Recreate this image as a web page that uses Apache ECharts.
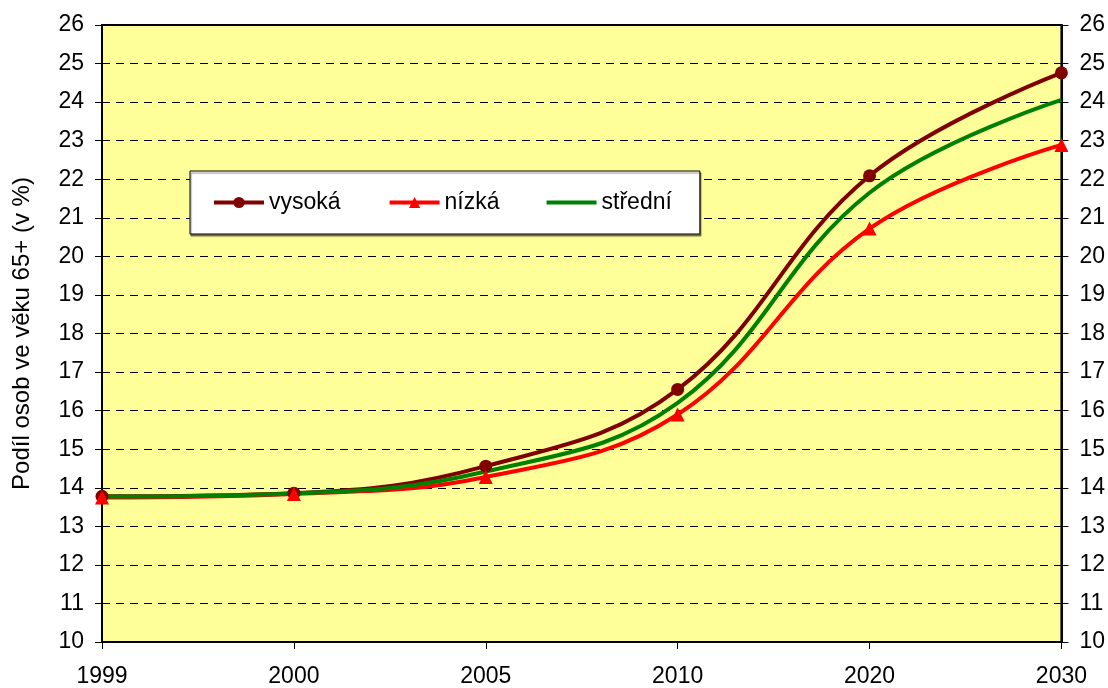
<!DOCTYPE html>
<html>
<head>
<meta charset="utf-8">
<script src="https://cdn.jsdelivr.net/npm/echarts@6/dist/echarts.min.js"></script>
<style>html,body{margin:0;padding:0;background:#fff}#c{width:1108px;height:688px}</style>
</head>
<body>
<div id="c"></div>
<script>
var years = ['1999', '2000', '2005', '2010', '2020', '2030'];
var vysoka = [13.78, 13.86, 14.56, 16.55, 22.09, 24.76];
var nizka = [13.75, 13.84, 14.28, 15.90, 20.72, 22.89];
var stredni = [13.77, 13.85, 14.42, 16.20, 21.65, 24.06];
var seriesNames = ['vysoká', 'nízká', 'střední'];
var yTitle = 'Podíl osob ve věku 65+ (v %)';

var font = 'Liberation Sans, Arial, sans-serif';
var chart = echarts.init(document.getElementById('c'));
var yAxisBase = {
  type: 'value', min: 10, max: 26, interval: 1,
  axisLine: { show: true, lineStyle: { color: '#000', width: 2 } },
  axisTick: { show: true, length: 7, inside: false, lineStyle: { color: '#000', width: 1 } },
  axisLabel: { color: '#000', fontSize: 23, fontFamily: font, margin: 18 },
  splitLine: { show: false }
};
chart.setOption({
  animation: false,
  backgroundColor: '#fff',
  grid: { left: 102, right: 45, top: 25, bottom: 45, show: true, backgroundColor: '#FFFF99', borderColor: '#000', borderWidth: 2 },
  legend: {
    left: 190, top: 171,
    orient: 'horizontal',
    padding: [20, 28, 20, 22],
    backgroundColor: '#fff', borderColor: '#000', borderWidth: 1,
    shadowColor: 'rgba(0,0,0,0.45)', shadowOffsetX: 1, shadowOffsetY: 2, shadowBlur: 1,
    itemWidth: 50, itemHeight: 14, itemGap: 47,
    lineStyle: { width: 4 },
    textStyle: { fontSize: 23, fontFamily: font, color: '#000' },
    data: [
      { name: seriesNames[0] },
      { name: seriesNames[1] },
      { name: seriesNames[2], icon: 'path://M0,0 L50,0 L50,4 L0,4 Z', itemStyle: { color: '#008000' } }
    ]
  },
  xAxis: {
    type: 'category', data: years, boundaryGap: false,
    axisLine: { show: true, lineStyle: { color: '#000', width: 2 } },
    axisTick: { show: true, length: 7, alignWithLabel: true, lineStyle: { color: '#000', width: 1 } },
    axisLabel: { color: '#000', fontSize: 23, fontFamily: font, margin: 23 },
    splitLine: { show: false }
  },
  yAxis: [
    Object.assign({}, yAxisBase, {
      position: 'left',
      name: yTitle, nameLocation: 'middle', nameGap: 68, nameRotate: 90,
      nameTextStyle: { fontSize: 24, fontFamily: font, color: '#000' },
      splitLine: { show: true, lineStyle: { color: '#000', width: 1, type: [8, 6] } }
    }),
    Object.assign({}, yAxisBase, { position: 'right' })
  ],
  series: [
    { name: seriesNames[0], type: 'line', data: vysoka, smooth: 0.4, symbol: 'circle', symbolSize: 13,
      lineStyle: { color: '#800000', width: 4 }, itemStyle: { color: '#800000' } },
    { name: seriesNames[1], type: 'line', data: nizka, smooth: 0.4, symbol: 'triangle', symbolSize: 14,
      lineStyle: { color: '#FF0000', width: 4 }, itemStyle: { color: '#FF0000' } },
    { name: seriesNames[2], type: 'line', data: stredni, smooth: 0.4, symbol: 'none', showSymbol: false,
      lineStyle: { color: '#008000', width: 4 }, itemStyle: { color: '#008000' } }
  ]
});
</script>
</body>
</html>
